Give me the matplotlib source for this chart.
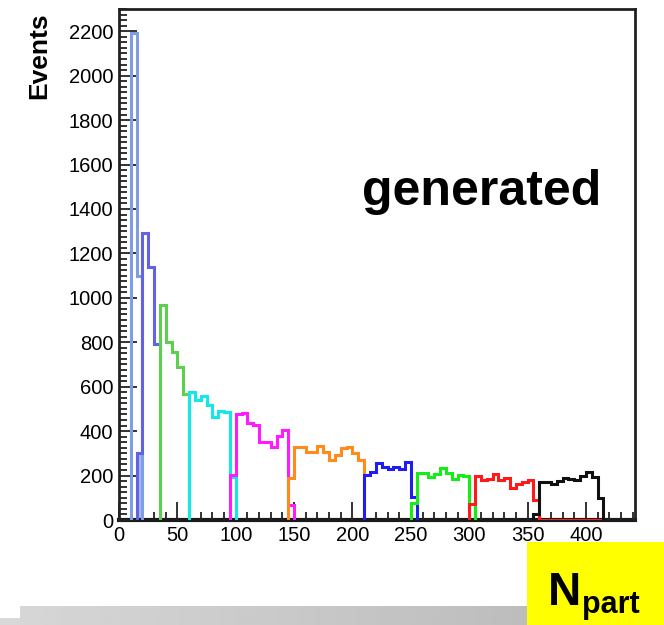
import matplotlib
matplotlib.use("Agg")
import matplotlib.pyplot as plt
import numpy as np
from matplotlib.ticker import MultipleLocator
from matplotlib.patches import Rectangle

plt.rcParams['font.family'] = ['Liberation Sans', 'DejaVu Sans']

W = 5  # Npart bin width

# centrality classes: first bin low edge, bin contents, colour
lo_0, cls_0 = 10, [2190, 1100]
lo_1, cls_1 = 15, [300, 1290, 1140, 790]
lo_2, cls_2 = 35, [967, 800, 757, 690, 565]
lo_3, cls_3 = 60, [575, 542, 560, 518, 465, 490, 485, 192]
lo_4, cls_4 = 95, [203, 475, 481, 436, 428, 352, 350, 330, 376, 406, 68]
lo_5, cls_5 = 145, [188, 330, 330, 308, 308, 334, 308, 270, 293, 323, 328, 301, 270]
lo_6, cls_6 = 210, [203, 218, 258, 240, 229, 240, 229, 263, 105]
lo_7, cls_7 = 250, [75, 212, 212, 195, 205, 233, 213, 185, 203, 200, 72]
lo_8, cls_8 = 300, [72, 198, 180, 185, 205, 178, 190, 145, 160, 173, 178, 90,
                    0, 0, 0, 0, 0, 0, 0, 0, 0, 0, 0]
lo_9, cls_9 = 355, [25, 173, 170, 162, 175, 188, 185, 180, 200, 215, 193, 98]

colors = ['#7f9de6', '#6262e4', '#5ccf4e', '#12e8e8', '#ff1aff',
          '#ff8c1a', '#1e1ef0', '#14ee14', '#ff1a1a', '#111111']

classes = [(lo_0, cls_0), (lo_1, cls_1), (lo_2, cls_2), (lo_3, cls_3),
           (lo_4, cls_4), (lo_5, cls_5), (lo_6, cls_6), (lo_7, cls_7),
           (lo_8, cls_8), (lo_9, cls_9)]

fig = plt.figure(figsize=(6.64, 6.25), dpi=100)
ax = fig.add_axes([119/664, 105/625, 516/664, 511/625])

# light fill under the first bin of the second class
ax.stairs(cls_1[:1], [lo_1, lo_1 + W], baseline=0, fill=True,
          color='#a9b9ea', zorder=1)

for (lo, vals), col in zip(classes, colors):
    edges = lo + W * np.arange(len(vals) + 1)
    ax.stairs(vals, edges, baseline=0, color=col, lw=2.2, zorder=2)

ax.set_xlim(0, 442)
ax.set_ylim(0, 2300)
ax.set_xticks(np.arange(0, 401, 50))
ax.set_yticks(np.arange(0, 2201, 200))
ax.xaxis.set_minor_locator(MultipleLocator(10))
ax.yaxis.set_minor_locator(MultipleLocator(25))
ax.tick_params(which='both', direction='in', top=False, right=False,
               width=1.3, color='#222222')
ax.tick_params(which='major', length=13, labelsize=14.5, pad=4)
ax.tick_params(which='minor', length=6)

for side in ['left', 'top', 'right']:
    ax.spines[side].set_linewidth(2)
    ax.spines[side].set_color('#222222')
ax.spines['bottom'].set_linewidth(3)
ax.spines['bottom'].set_color('#1a1a1a')
ax.spines['bottom'].set_zorder(1.5)

fig.text(39/664, 1 - 12/625, 'Events', rotation=90, ha='center', va='top',
         fontsize=19, fontweight='bold')
fig.text(362/664, 1 - 205/625, 'generated', ha='left', va='baseline',
         fontsize=36, fontweight='bold')

# bottom banner and axis title box
grad = fig.add_axes([20/664, 0, 507/664, 19/625])
grad.imshow(np.linspace(0.84, 0.74, 200)[None, :], cmap='gray', vmin=0, vmax=1,
            aspect='auto', extent=[0, 1, 0, 1])
grad.axis('off')
fig.add_artist(Rectangle((0, 0), 20/664, 7/625, transform=fig.transFigure,
                         color='#d8d8d8', lw=0))
fig.add_artist(Rectangle((527/664, 0), 137/664, 83/625,
                         transform=fig.transFigure, color='#ffff00', lw=0))
fig.text(548/664, 1 - 605/625, 'N', ha='left', va='baseline',
         fontsize=33, fontweight='bold')
fig.text(582/664, 1 - 613/625, 'part', ha='left', va='baseline',
         fontsize=22, fontweight='bold')

fig.savefig('out.png', dpi=100)
